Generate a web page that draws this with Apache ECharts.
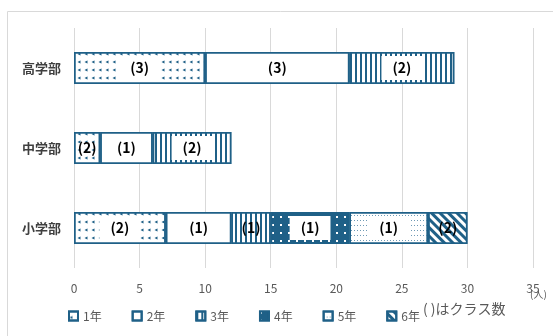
<!DOCTYPE html>
<html lang="ja">
<head>
    <meta charset="utf-8">
    <script type="text/javascript" src="https://cdn.jsdelivr.net/npm/echarts@6/dist/echarts.min.js"></script>
</head>
<body style="margin: 0">
<div id="container" style="width:553px;height:336px"></div>

<script type="text/javascript">
    // カテゴリ（下から上）
    var categories = ['小学部', '中学部', '高学部'];
    var grades = ['1年', '2年', '3年', '4年', '5年', '6年'];
    // 人数
    var nen1 = [7, 2, 10];
    var nen2 = [5, 4, 11];
    var nen3 = [3, 6, 8];
    var nen4 = [6, null, null];
    var nen5 = [6, null, null];
    var nen6 = [3, null, null];
    // クラス数
    var cls1 = [2, 2, 3];
    var cls2 = [1, 1, 3];
    var cls3 = [1, 2, 2];
    var cls4 = [1, null, null];
    var cls5 = [1, null, null];
    var cls6 = [2, null, null];
    var xTicks = [0, 5, 10, 15, 20, 25, 30, 35];

    var blue = '#1f6087';
    var font = '"Noto Sans CJK JP", "Noto Sans", sans-serif';

    var decals = [
        {color: blue, symbol: 'triangle', symbolSize: 0.8, dashArrayX: [4, 4], dashArrayY: [4, 3], rotation: -Math.PI / 2},
        {color: blue, symbol: 'none'},
        {color: blue, symbol: 'rect', symbolSize: 1, dashArrayX: [1.5, 2.5], dashArrayY: [1, 0]},
        {color: '#ffffff', symbol: 'rect', symbolSize: 1, dashArrayX: [1.5, 6], dashArrayY: [1.5, 6]},
        {color: '#6f9ab5', symbol: 'rect', symbolSize: 1, dashArrayX: [1, 2], dashArrayY: [1, 4]},
        {color: blue, symbol: 'rect', symbolSize: 1, dashArrayX: [1, 0], dashArrayY: [3, 3], rotation: Math.PI / 4}
    ];
    var fills = ['#ffffff', '#ffffff', '#ffffff', blue, '#ffffff', '#ffffff'];
    var values = [nen1, nen2, nen3, nen4, nen5, nen6];
    var classes = [cls1, cls2, cls3, cls4, cls5, cls6];

    var series = grades.map(function (g, i) {
        return {
            name: g,
            type: 'bar',
            stack: 'total',
            barWidth: 32,
            itemStyle: {color: fills[i], borderColor: blue, borderWidth: 1.5, decal: decals[i]},
            label: {
                show: true,
                color: '#000',
                fontWeight: 'bold',
                fontSize: 14,
                fontFamily: font,
                formatter: function (p) {
                    return '(' + classes[i][p.dataIndex] + ')';
                }
            },
            data: values[i].map(function (v) {
                if (v == null) return null;
                var wide = v >= 5;
                return {
                    value: v,
                    label: wide ? {backgroundColor: '#fff', padding: [5, 11]} : {}
                };
            })
        };
    });

    var myChart = echarts.init(document.getElementById('container'));
    var option = {
        animation: false,
        grid: {left: 74, right: 20, top: 28, bottom: 68},
        graphic: [
            {type: 'rect', shape: {x: 7.5, y: 11.5, width: 700, height: 500}, style: {fill: 'none', stroke: '#d9d9d9', lineWidth: 1}},
            {type: 'text', left: 423, top: 302, style: {text: '( )はクラス数', font: '14px ' + font, fill: '#595959'}},
            {type: 'text', left: 530, top: 289, style: {text: '(人)', font: '10px ' + font, fill: '#595959'}}
        ],
        legend: {
            data: grades,
            icon: 'rect',
            left: 63,
            top: 305,
            itemWidth: 9,
            itemHeight: 9,
            itemGap: 30,
            textStyle: {fontSize: 12, color: '#595959', fontFamily: font}
        },
        xAxis: {
            type: 'value',
            min: xTicks[0],
            max: xTicks[xTicks.length - 1],
            interval: 5,
            axisLine: {show: false},
            axisTick: {show: false},
            axisLabel: {color: '#595959', fontSize: 12, margin: 14, fontFamily: font},
            splitLine: {lineStyle: {color: '#d9d9d9', width: 1}}
        },
        yAxis: {
            type: 'category',
            data: categories,
            axisLine: {show: false},
            axisTick: {show: false},
            axisLabel: {color: '#404040', fontSize: 13, fontWeight: 'bold', margin: 13, fontFamily: font}
        },
        series: series
    };
    myChart.setOption(option);
</script>
</body>
</html>
